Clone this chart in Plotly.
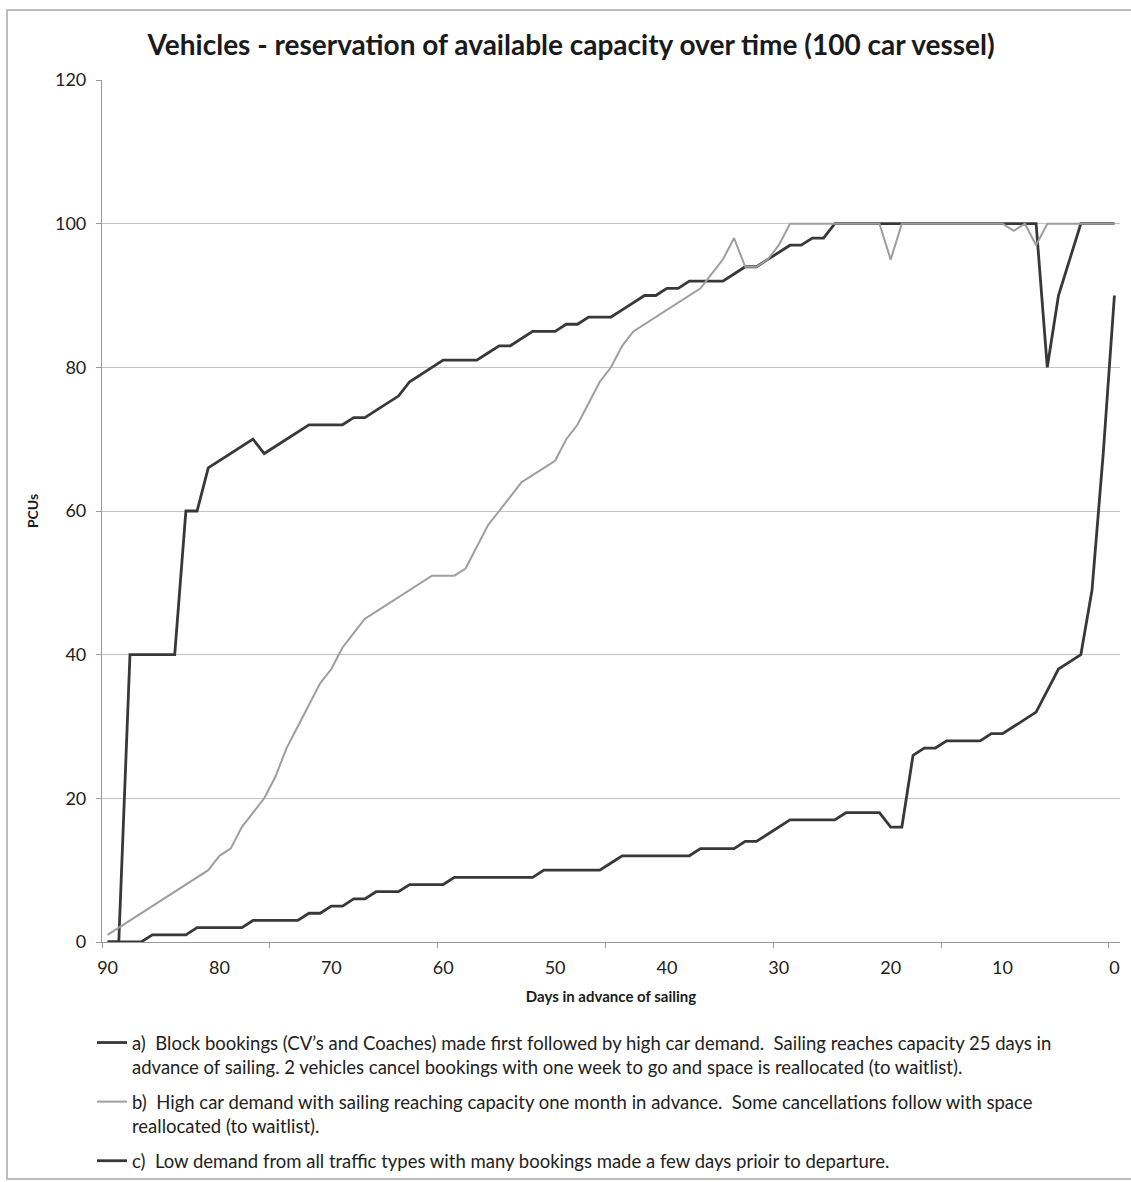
import plotly.graph_objects as go

days = list(range(90, -1, -1))

series_a = [0, 0, 40, 40, 40, 40, 40, 60, 60, 66,
            67, 68, 69, 70, 68, 69, 70, 71, 72, 72,
            72, 72, 73, 73, 74, 75, 76, 78, 79, 80,
            81, 81, 81, 81, 82, 83, 83, 84, 85, 85,
            85, 86, 86, 87, 87, 87, 88, 89, 90, 90,
            91, 91, 92, 92, 92, 92, 93, 94, 94, 95,
            96, 97, 97, 98, 98, 100, 100, 100, 100, 100,
            100, 100, 100, 100, 100, 100, 100, 100, 100, 100,
            100, 100, 100, 100, 80, 90, 95, 100, 100, 100,
            100]

series_b = [1, 2, 3, 4, 5, 6, 7, 8, 9, 10,
            12, 13, 16, 18, 20, 23, 27, 30, 33, 36,
            38, 41, 43, 45, 46, 47, 48, 49, 50, 51,
            51, 51, 52, 55, 58, 60, 62, 64, 65, 66,
            67, 70, 72, 75, 78, 80, 83, 85, 86, 87,
            88, 89, 90, 91, 93, 95, 98, 94, 94, 95,
            97, 100, 100, 100, 100, 100, 100, 100, 100, 100,
            95, 100, 100, 100, 100, 100, 100, 100, 100, 100,
            100, 99, 100, 97, 100, 100, 100, 100, 100, 100,
            100]

series_c = [0, 0, 0, 0, 1, 1, 1, 1, 2, 2,
            2, 2, 2, 3, 3, 3, 3, 3, 4, 4,
            5, 5, 6, 6, 7, 7, 7, 8, 8, 8,
            8, 9, 9, 9, 9, 9, 9, 9, 9, 10,
            10, 10, 10, 10, 10, 11, 12, 12, 12, 12,
            12, 12, 12, 13, 13, 13, 13, 14, 14, 15,
            16, 17, 17, 17, 17, 17, 18, 18, 18, 18,
            16, 16, 26, 27, 27, 28, 28, 28, 28, 29,
            29, 30, 31, 32, 35, 38, 39, 40, 49, 68,
            90]

labels = [
    "a)  Block bookings (CV\u2019s and Coaches) made first followed by high car demand.  Sailing reaches capacity 25 days in<br>"
    "advance of sailing. 2 vehicles cancel bookings with one week to go and space is reallocated (to waitlist).",
    "b)  High car demand with sailing reaching capacity one month in advance.  Some cancellations follow with space<br>"
    "reallocated (to waitlist).",
    "c)  Low demand from all traffic types with many bookings made a few days prioir to departure.",
]

x_tick_vals = list(range(90, -1, -10))
y_tick_vals = list(range(0, 121, 20))

W, H = 1131, 1182
L, R, T, B = 102, 1120, 80, 942

fig = go.Figure()
styles = [("#383838", 2.8), ("#9e9e9e", 2.0), ("#383838", 2.8)]
for vals, lab, (col, wd), grp in zip([series_a, series_b, series_c], labels, styles, ["a", "b", "c"]):
    fig.add_trace(go.Scatter(x=days, y=vals, mode="lines", name=lab, legendgroup=grp,
                             line=dict(color=col, width=wd)))

def px_x(p):
    return (p - L) / (R - L)

def px_y(p):
    return (B - p) / (B - T)

fig.update_layout(
    width=W, height=H,
    margin=dict(l=L, r=W - R, t=T, b=H - B, autoexpand=False),
    paper_bgcolor="white", plot_bgcolor="white",
    font=dict(family="Lato", color="#222222"),
    title=dict(text="<b>Vehicles - reservation of available capacity over time (100 car vessel)</b>",
               font=dict(family="Lato", size=28, color="#1a1a1a"),
               x=0.505, xref="container", xanchor="center",
               y=1 - 45 / H, yref="container", yanchor="middle"),
    showlegend=True,
    legend=dict(x=px_x(92), y=px_y(1024), xanchor="left", yanchor="top",
                font=dict(family="Lato", size=18.5, color="#222222"),
                valign="top", tracegroupgap=8, bgcolor="rgba(0,0,0,0)",
                itemwidth=30),
    xaxis=dict(range=[90.5, -0.5], tickmode="array", tickvals=x_tick_vals,
               ticktext=[str(v) for v in x_tick_vals], ticks="",
               tickfont=dict(family="Lato", size=18, color="#222222"),
               showgrid=False, zeroline=False, showline=True, linecolor="#9a9a9a", linewidth=1.2,
               ticklabelstandoff=9,
               minor=dict(tickmode="linear", tick0=0.5, dtick=15, ticks="outside", ticklen=5,
                          tickcolor="#9a9a9a", showgrid=False),
               title=dict(text="<b>Days in advance of sailing</b>",
                          font=dict(family="Lato", size=15, color="#1a1a1a"), standoff=14)),
    yaxis=dict(range=[0, 120], tickmode="array", tickvals=y_tick_vals, ticks="outside", ticklen=5,
               tickcolor="#9a9a9a",
               tickfont=dict(family="Lato", size=18, color="#222222"),
               showgrid=True, gridcolor="#c4c4c4", gridwidth=1,
               zeroline=False, showline=True, linecolor="#9a9a9a", linewidth=1.2,
               ticklabelstandoff=6,
               title=dict(text="<b>PCUs</b>", font=dict(family="Lato", size=14, color="#1a1a1a"),
                          standoff=13)),
    shapes=[dict(type="rect", xref="paper", yref="paper",
                 x0=px_x(7), x1=px_x(1140), y0=px_y(1179), y1=px_y(10),
                 line=dict(color="#a8a8a8", width=1.5), fillcolor="rgba(0,0,0,0)", layer="below")],
)

fig.write_html("out.html", config={"displayModeBar": False},
               post_script="document.body.style.margin='0';document.body.style.overflow='hidden';")
